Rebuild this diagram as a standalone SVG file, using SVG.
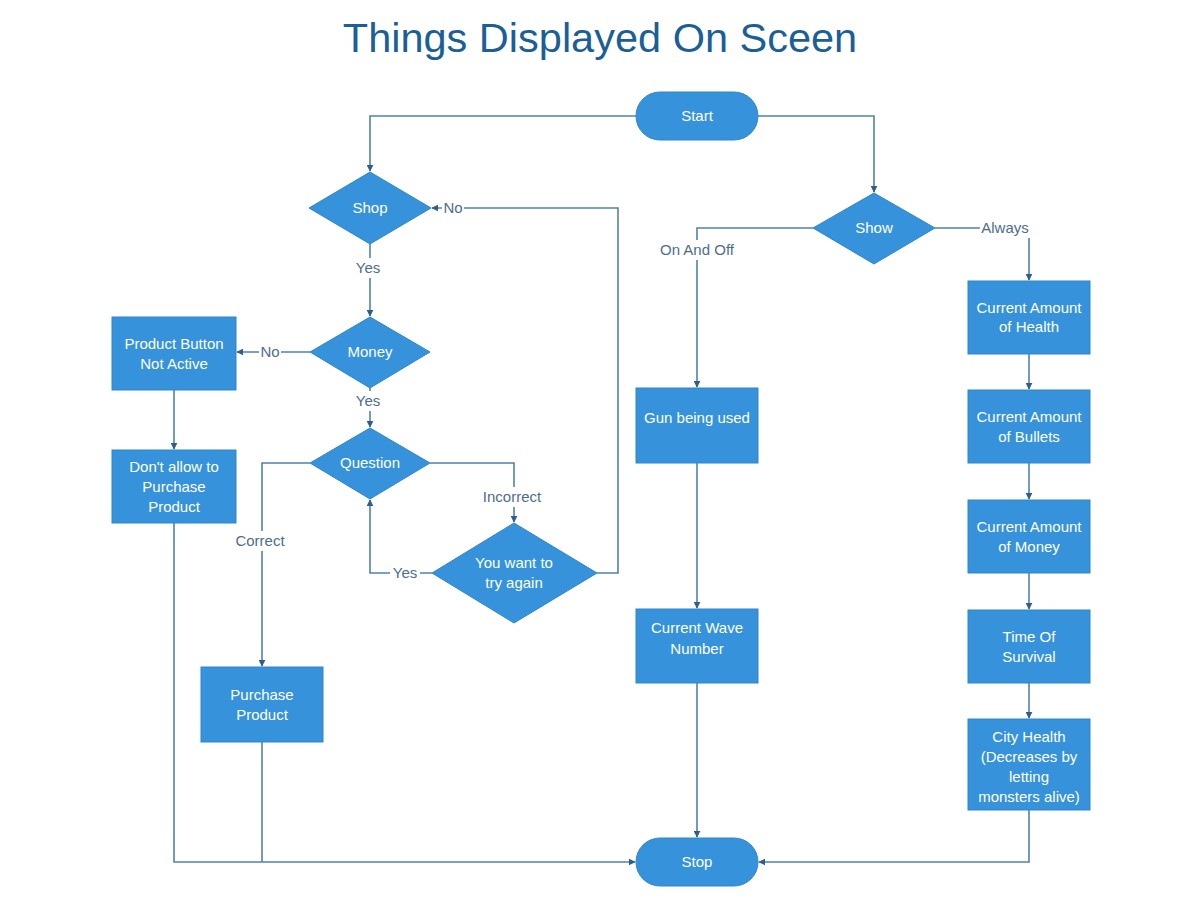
<svg xmlns="http://www.w3.org/2000/svg" width="1200" height="900" viewBox="0 0 1200 900">
<style>
.n{fill:#3592db;stroke:#2f86cc;stroke-width:1}
.t{font-family:"Liberation Sans",Arial,sans-serif;font-size:15px;fill:#ffffff;text-anchor:middle}
.c{fill:none;stroke:#4f82ad;stroke-width:1.6}
.l{font-family:"Liberation Sans",Arial,sans-serif;font-size:15px;fill:#4d6d8c;text-anchor:middle}
.lb{fill:#ffffff}
</style>
<defs>
<marker id="a" viewBox="0 0 10 10" refX="9" refY="5" markerWidth="7" markerHeight="7" markerUnits="userSpaceOnUse" orient="auto">
<path d="M0,0 L10,5 L0,10 z" fill="#2f5f88"/>
</marker>
</defs>
<rect width="1200" height="900" fill="#ffffff"/>
<text x="600" y="52" font-family="'Liberation Sans',Arial,sans-serif" font-size="41.5" fill="#1c5f97" text-anchor="middle">Things Displayed On Sceen</text>

<g id="connectors">
<path class="c" d="M636,116 H370 V171" marker-end="url(#a)"/>
<path class="c" d="M758,116 H874 V192" marker-end="url(#a)"/>
<path class="c" d="M813,228 H697 V387" marker-end="url(#a)"/>
<path class="c" d="M935,228 H1029 V280" marker-end="url(#a)"/>
<path class="c" d="M370,244 V316" marker-end="url(#a)"/>
<path class="c" d="M310,352 H237" marker-end="url(#a)"/>
<path class="c" d="M174,390 V449" marker-end="url(#a)"/>
<path class="c" d="M174,523 V862 H635" marker-end="url(#a)"/>
<path class="c" d="M370,388 V427" marker-end="url(#a)"/>
<path class="c" d="M310,463 H262 V666" marker-end="url(#a)"/>
<path class="c" d="M430,463 H514 V522" marker-end="url(#a)"/>
<path class="c" d="M432,573 H370 V500" marker-end="url(#a)"/>
<path class="c" d="M597,573 H618 V208 H432" marker-end="url(#a)"/>
<path class="c" d="M262,742 V862"/>
<path class="c" d="M697,463 V608" marker-end="url(#a)"/>
<path class="c" d="M697,683 V837" marker-end="url(#a)"/>
<path class="c" d="M1029,354 V389" marker-end="url(#a)"/>
<path class="c" d="M1029,463 V499" marker-end="url(#a)"/>
<path class="c" d="M1029,573 V609" marker-end="url(#a)"/>
<path class="c" d="M1029,683 V718" marker-end="url(#a)"/>
<path class="c" d="M1029,810 V862 H759" marker-end="url(#a)"/>
<g id="labels">
<rect class="lb" x="654" y="240" width="86" height="20"/>
<text class="l" x="697" y="255">On And Off</text>
<rect class="lb" x="980" y="218" width="50" height="20"/>
<text class="l" x="1005" y="233">Always</text>
<rect class="lb" x="353" y="258" width="32" height="20"/>
<text class="l" x="368" y="273">Yes</text>
<rect class="lb" x="259" y="342" width="22" height="20"/>
<text class="l" x="270" y="357">No</text>
<rect class="lb" x="353" y="391" width="32" height="20"/>
<text class="l" x="368" y="406">Yes</text>
<rect class="lb" x="233" y="531" width="56" height="20"/>
<text class="l" x="260" y="546">Correct</text>
<rect class="lb" x="479" y="487" width="66" height="20"/>
<text class="l" x="512" y="502">Incorrect</text>
<rect class="lb" x="390" y="563" width="30" height="20"/>
<text class="l" x="405" y="578">Yes</text>
<rect class="lb" x="442" y="198" width="22" height="20"/>
<text class="l" x="453" y="213">No</text>
</g>
</g>

<g id="start"><rect class="n" x="636" y="92" width="122" height="48" rx="24"/><text class="t" x="697" y="121">Start</text></g>
<g id="shop"><polygon class="n" points="370,172 431,208 370,244 309,208"/><text class="t" x="370" y="213">Shop</text></g>
<g id="show"><polygon class="n" points="874,193 935,228 874,264 813,228"/><text class="t" x="874" y="233">Show</text></g>
<g id="money"><polygon class="n" points="370,317 430,352 370,388 310,352"/><text class="t" x="370" y="357">Money</text></g>
<g id="question"><polygon class="n" points="370,428 430,463 370,499 310,463"/><text class="t" x="370" y="468">Question</text></g>
<g id="tryagain"><polygon class="n" points="514,523 597,573 514,623 432,573"/><text class="t" x="514" y="568">You want to</text><text class="t" x="514" y="588">try again</text></g>
<g id="notactive"><rect class="n" x="112" y="317" width="124" height="73"/><text class="t" x="174" y="349">Product Button</text><text class="t" x="174" y="369">Not Active</text></g>
<g id="dontallow"><rect class="n" x="112" y="450" width="124" height="73"/><text class="t" x="174" y="472">Don't allow to</text><text class="t" x="174" y="492">Purchase</text><text class="t" x="174" y="512">Product</text></g>
<g id="purchase"><rect class="n" x="201" y="667" width="122" height="75"/><text class="t" x="262" y="700">Purchase</text><text class="t" x="262" y="720">Product</text></g>
<g id="gun"><rect class="n" x="636" y="388" width="122" height="75"/><text class="t" x="697" y="423">Gun being used</text></g>
<g id="wave"><rect class="n" x="636" y="609" width="122" height="74"/><text class="t" x="697" y="633">Current Wave</text><text class="t" x="697" y="654">Number</text></g>
<g id="stop"><rect class="n" x="636" y="838" width="122" height="48" rx="24"/><text class="t" x="697" y="867">Stop</text></g>
<g id="health"><rect class="n" x="968" y="281" width="122" height="73"/><text class="t" x="1029" y="313">Current Amount</text><text class="t" x="1029" y="332">of Health</text></g>
<g id="bullets"><rect class="n" x="968" y="390" width="122" height="73"/><text class="t" x="1029" y="422">Current Amount</text><text class="t" x="1029" y="442">of Bullets</text></g>
<g id="moneyamt"><rect class="n" x="968" y="500" width="122" height="73"/><text class="t" x="1029" y="532">Current Amount</text><text class="t" x="1029" y="552">of Money</text></g>
<g id="survival"><rect class="n" x="968" y="610" width="122" height="73"/><text class="t" x="1029" y="642">Time Of</text><text class="t" x="1029" y="662">Survival</text></g>
<g id="city"><rect class="n" x="968" y="719" width="122" height="91"/><text class="t" x="1029" y="742">City Health</text><text class="t" x="1029" y="762">(Decreases by</text><text class="t" x="1029" y="782">letting</text><text class="t" x="1029" y="802">monsters alive)</text></g>
</svg>
